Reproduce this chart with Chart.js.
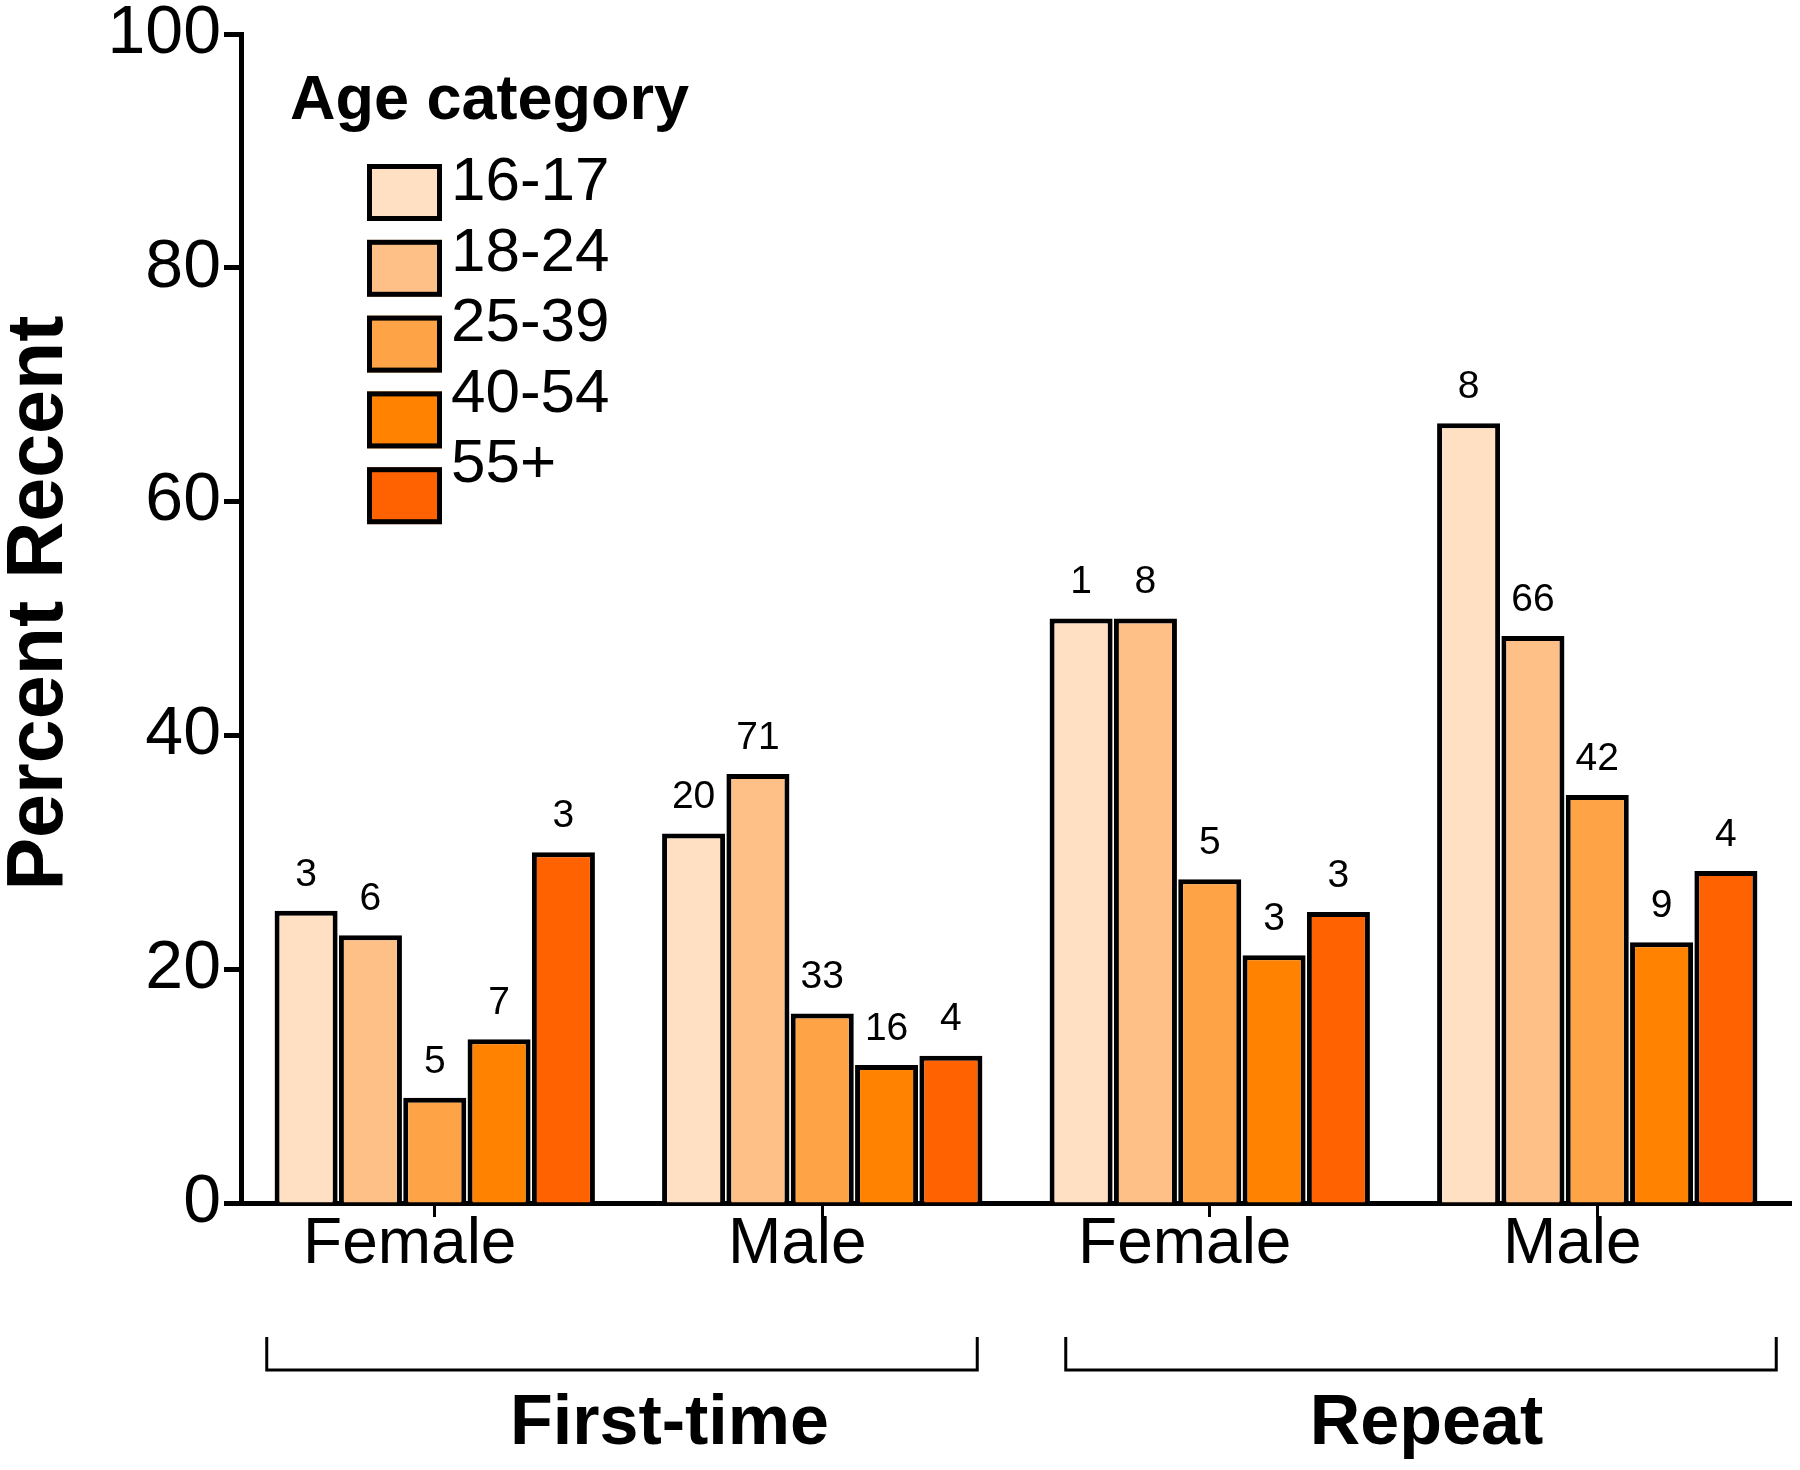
<!DOCTYPE html>
<html>
<head>
<meta charset="utf-8">
<script src="https://cdn.jsdelivr.net/npm/chart.js@4.4.1/dist/chart.umd.min.js"></script>
<style>
html, body { margin: 0; padding: 0; background: #fff; }
#wrap { width: 1800px; height: 1470px; }
</style>
</head>
<body>
<div id="wrap"><canvas id="chart" width="1800" height="1470"></canvas></div>
<script>
"use strict";
const categories = ["Female", "Male", "Female", "Male"];
const groupNames = ["First-time", "Repeat"];
const ageLabels = ["16-17", "18-24", "25-39", "40-54", "55+"];
const ageColors = ["#ffe0c2", "#ffc088", "#ffa446", "#ff8300", "#ff6200"];

// percent recent, one array per age category (FT female, FT male, R female, R male)
const pct1617 = [25.0, 31.6, 50.0, 66.7];
const pct1824 = [22.9, 36.7, 50.0, 48.5];
const pct2539 = [9.0, 16.2, 27.7, 34.9];
const pct4054 = [14.0, 11.8, 21.2, 22.3];
const pct55 = [30.0, 12.6, 24.9, 28.4];

// counts printed above the bars
const n1617 = [3, 20, 1, 8];
const n1824 = [6, 71, 8, 66];
const n2539 = [5, 33, 5, 42];
const n4054 = [7, 16, 3, 9];
const n55 = [3, 4, 3, 4];

const yTicks = [0, 20, 40, 60, 80, 100];

const FONT = "'Liberation Sans', Arial, Helvetica, sans-serif";
const pctSets = [pct1617, pct1824, pct2539, pct4054, pct55];
const countSets = [n1617, n1824, n2539, n4054, n55];

const barLabels = {
    id: "barLabels",
    afterDatasetsDraw(chart) {
        const ctx = chart.ctx;
        ctx.save();
        ctx.font = "39px " + FONT;
        ctx.fillStyle = "#000";
        ctx.textAlign = "center";
        ctx.textBaseline = "middle";
        chart.data.datasets.forEach((ds, i) => {
            chart.getDatasetMeta(i).data.forEach((bar, j) => {
                ctx.fillText(String(ds.counts[j]), bar.x, bar.y - 36);
            });
        });
        ctx.restore();
    }
};

const ageLegend = {
    id: "ageLegend",
    afterDraw(chart) {
        const ctx = chart.ctx;
        ctx.save();
        ctx.fillStyle = "#000";
        ctx.textAlign = "left";
        ctx.textBaseline = "alphabetic";
        ctx.font = "bold 63px " + FONT;
        ctx.fillText("Age category", 290, 119);
        ctx.font = "62px " + FONT;
        chart.data.datasets.forEach((ds, i) => {
            const top = 164 + i * 75.8;
            ctx.fillStyle = ds.backgroundColor;
            ctx.fillRect(367, top, 75, 57);
            ctx.lineWidth = 5;
            ctx.strokeStyle = "#000";
            ctx.strokeRect(369.5, top + 2.5, 70, 52);
            ctx.fillStyle = "#000";
            ctx.textBaseline = "middle";
            ctx.fillText(ds.label, 451, 183 + i * 70.5);
        });
        ctx.restore();
    }
};

const yTitle = {
    id: "yTitle",
    afterDraw(chart) {
        const ctx = chart.ctx;
        ctx.save();
        ctx.translate(40, 603);
        ctx.rotate(-Math.PI / 2);
        ctx.fillStyle = "#000";
        ctx.font = "bold 79px " + FONT;
        ctx.textAlign = "center";
        ctx.textBaseline = "middle";
        ctx.fillText("Percent Recent", 0, 0);
        ctx.restore();
    }
};

const groupBrackets = {
    id: "groupBrackets",
    afterDraw(chart) {
        const ctx = chart.ctx;
        const x = chart.scales.x;
        const base = chart.chartArea.bottom;
        const spans = [[x.getPixelForValue(0) - 168, x.getPixelForValue(1) + 155],
                       [x.getPixelForValue(2) - 144, x.getPixelForValue(3) + 179]];
        const textX = [(x.getPixelForValue(0) + x.getPixelForValue(1)) / 2 + 41,
                       (x.getPixelForValue(2) + x.getPixelForValue(3)) / 2 + 23];
        ctx.save();
        ctx.strokeStyle = "#000";
        ctx.lineWidth = 3;
        spans.forEach(([l, r]) => {
            ctx.beginPath();
            ctx.moveTo(l, base + 134);
            ctx.lineTo(l, base + 167);
            ctx.lineTo(r, base + 167);
            ctx.lineTo(r, base + 134);
            ctx.stroke();
        });
        ctx.fillStyle = "#000";
        ctx.font = "bold 70px " + FONT;
        ctx.textAlign = "center";
        ctx.textBaseline = "middle";
        groupNames.forEach((g, i) => ctx.fillText(g, textX[i], base + 222));
        ctx.restore();
    }
};

new Chart(document.getElementById("chart").getContext("2d"), {
    type: "bar",
    data: {
        labels: categories,
        datasets: ageLabels.map((lab, i) => ({
            label: lab,
            data: pctSets[i],
            counts: countSets[i],
            backgroundColor: ageColors[i],
            borderColor: "#000",
            borderWidth: 5,
            categoryPercentage: 0.83,
            barPercentage: 0.98
        }))
    },
    options: {
        responsive: false,
        animation: false,
        devicePixelRatio: 1,
        layout: { padding: { top: 34, right: 9, left: 0, bottom: 0 } },
        plugins: { legend: { display: false }, tooltip: { enabled: false } },
        scales: {
            x: {
                offset: true,
                grid: { drawOnChartArea: false, offset: false, tickLength: 14, tickWidth: 3, tickColor: "#000" },
                border: { display: true, width: 5, color: "#000" },
                ticks: { color: "#000", font: { family: FONT, size: 64 }, padding: -10, labelOffset: -25, maxRotation: 0 },
                afterFit(scale) { scale.height = 267; }
            },
            y: {
                min: 0,
                max: 100,
                afterBuildTicks(scale) { scale.ticks = yTicks.map((v) => ({ value: v })); },
                grid: { drawOnChartArea: false, tickLength: 17, tickWidth: 5, tickColor: "#000" },
                border: { display: true, width: 5, color: "#000" },
                ticks: { color: "#000", font: { family: FONT, size: 68, lineHeight: 0.8 }, padding: 3 },
                afterFit(scale) { scale.width = 241; }
            }
        }
    },
    plugins: [barLabels, ageLegend, yTitle, groupBrackets]
});
</script>
</body>
</html>
